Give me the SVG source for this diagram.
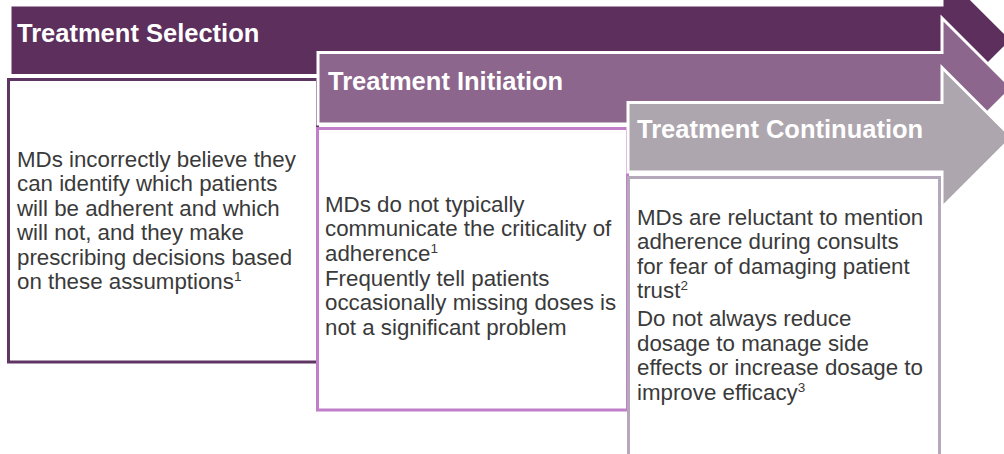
<svg xmlns="http://www.w3.org/2000/svg" width="1004" height="454" viewBox="0 0 1004 454">
  <style>
    .arrow { stroke: #ffffff; stroke-width: 3; stroke-linejoin: miter; }
    .box { fill: #ffffff; stroke-width: 3; }
    .head { font-family: "Liberation Sans", Arial, sans-serif; font-weight: bold; font-size: 25.5px; fill: #ffffff; }
    .body { font-family: "Liberation Sans", Arial, sans-serif; font-size: 22.3px; fill: #3a3a3a; }
    .sup { font-size: 13.5px; }
  </style>
  <rect width="1004" height="454" fill="#ffffff"/>

  <!-- Stage 1: treatment selection -->
  <g id="stage-selection">
    <polygon class="arrow" fill="#5c2f5c" points="10,5 942,5 942,-30 1012,40 942,110 942,75.5 10,75.5"/>
    <text class="head" x="17" y="42">Treatment Selection</text>
    <rect class="box" x="8.5" y="79.5" width="309" height="282.5" stroke="#5f3563"/>
    <text class="body">
      <tspan x="17" y="166.5">MDs incorrectly believe they</tspan>
      <tspan x="17" y="191">can identify which patients</tspan>
      <tspan x="17" y="215.5">will be adherent and which</tspan>
      <tspan x="17" y="240">will not, and they make</tspan>
      <tspan x="17" y="264.5">prescribing decisions based</tspan>
      <tspan x="17" y="289">on these assumptions<tspan class="sup" dy="-8">1</tspan></tspan>
    </text>
  </g>

  <!-- Stage 2: treatment initiation -->
  <g id="stage-initiation">
    <polygon class="arrow" fill="#8c668c" points="318,52.5 942,52.5 942,18 1012,88 942,158 942,124 318,124"/>
    <text class="head" x="328" y="90">Treatment Initiation</text>
    <rect class="box" x="317.5" y="128.5" width="310" height="281.5" stroke="#c07fc8"/>
    <text class="body">
      <tspan x="325" y="211.5">MDs do not typically</tspan>
      <tspan x="325" y="236">communicate the criticality of</tspan>
      <tspan x="325" y="260.5">adherence<tspan class="sup" dy="-8">1</tspan></tspan>
      <tspan x="325" y="285.5">Frequently tell patients</tspan>
      <tspan x="325" y="310">occasionally missing doses is</tspan>
      <tspan x="325" y="334.5">not a significant problem</tspan>
    </text>
  </g>

  <!-- Stage 3: treatment continuation -->
  <g id="stage-continuation">
    <polygon class="arrow" fill="#aea6ae" points="628,102.5 942,102.5 942,67.5 1012,137.5 942,207.5 942,172 628,172"/>
    <text class="head" x="637" y="138">Treatment Continuation</text>
    <rect class="box" x="628.5" y="177.5" width="311" height="290" stroke="#b6a8bb"/>
    <text class="body">
      <tspan x="637" y="224.5">MDs are reluctant to mention</tspan>
      <tspan x="637" y="249">adherence during consults</tspan>
      <tspan x="637" y="273.5">for fear of damaging patient</tspan>
      <tspan x="637" y="298">trust<tspan class="sup" dy="-8">2</tspan></tspan>
      <tspan x="637" y="326">Do not always reduce</tspan>
      <tspan x="637" y="350.5">dosage to manage side</tspan>
      <tspan x="637" y="375">effects or increase dosage to</tspan>
      <tspan x="637" y="399.5">improve efficacy<tspan class="sup" dy="-8">3</tspan></tspan>
    </text>
  </g>
</svg>
